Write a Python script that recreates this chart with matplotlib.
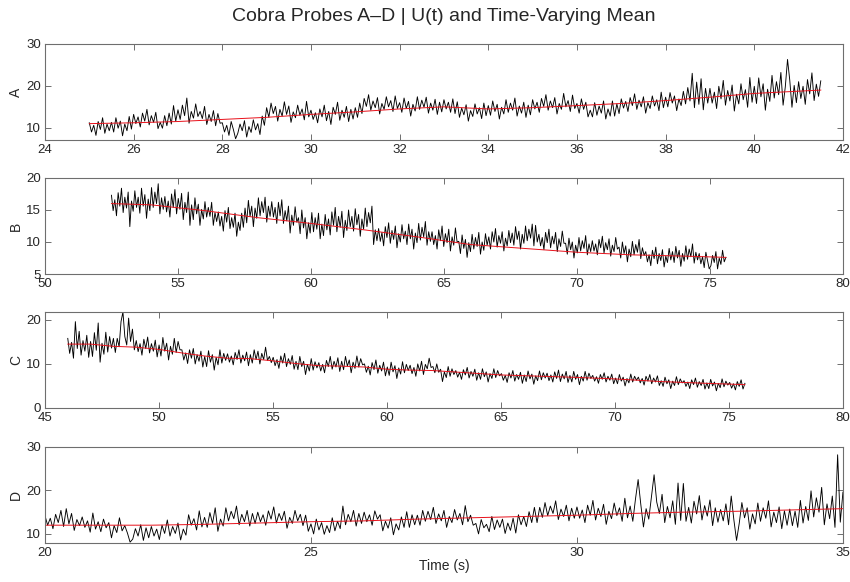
import numpy as np
import matplotlib
matplotlib.use("Agg")
import matplotlib.pyplot as plt

plt.rcParams['font.family'] = ['Liberation Sans', 'DejaVu Sans']

# ---- probe A, 25.0 .. 41.5 s, 20 samples per second
a_start, a_end = 25.0, 41.5
a_u = [
    11.2, 9.0, 10.6, 8.2, 11.5, 9.6, 12.4, 8.7, 10.9, 9.3, 11.3, 9.0, 12.4, 9.9, 11.6, 8.1, 10.9, 9.3, 12.7, 9.7,
    13.2, 11.0, 12.6, 10.2, 13.5, 11.6, 14.4, 10.7, 12.9, 11.3, 13.7, 9.8, 11.3, 9.9, 12.9, 10.5, 13.5, 10.9, 15.3, 11.6,
    14.3, 12.0, 15.4, 12.9, 17.1, 11.1, 13.9, 12.3, 15.7, 12.7, 13.9, 12.2, 15.1, 10.8, 13.2, 11.5, 14.1, 10.5, 13.4, 11.1,
    11.2, 9.0, 10.6, 8.2, 11.5, 9.6, 7.4, 8.7, 10.9, 9.3, 11.7, 7.8, 10.3, 8.9, 11.9, 9.5, 11.0, 8.4, 12.8, 10.6,
    14.8, 12.5, 15.9, 13.4, 15.1, 11.6, 14.4, 12.8, 16.2, 13.2, 15.2, 11.3, 13.8, 12.4, 15.4, 13.0, 14.5, 11.9, 16.3, 12.6,
    14.2, 12.0, 13.6, 11.2, 14.5, 12.6, 15.4, 11.7, 13.9, 10.8, 14.9, 13.2, 16.1, 11.8, 14.2, 12.5, 15.1, 11.5, 14.4, 12.1,
    14.8, 12.5, 15.9, 13.4, 17.0, 15.1, 17.9, 14.2, 16.4, 14.8, 17.2, 13.3, 15.8, 14.4, 17.4, 15.0, 16.5, 13.9, 17.6, 14.6,
    16.0, 13.7, 17.1, 14.6, 16.3, 12.8, 15.6, 14.0, 17.4, 14.4, 16.6, 14.9, 17.3, 13.5, 15.9, 14.2, 16.8, 13.2, 16.1, 13.8,
    16.7, 14.5, 16.1, 13.7, 16.9, 13.4, 16.2, 12.5, 14.7, 13.1, 15.5, 11.6, 14.1, 12.7, 15.7, 13.3, 14.8, 12.2, 15.9, 12.9,
    15.3, 13.0, 16.4, 13.9, 15.6, 12.1, 14.9, 13.3, 16.7, 13.7, 15.9, 14.2, 17.1, 12.8, 15.2, 13.5, 16.1, 12.5, 15.4, 13.1,
    16.7, 14.5, 16.1, 13.7, 17.0, 15.1, 17.9, 14.2, 16.4, 14.8, 17.2, 13.3, 15.8, 14.4, 18.2, 15.0, 16.5, 13.9, 17.8, 14.6,
    15.8, 13.5, 16.9, 14.4, 16.1, 12.6, 14.2, 12.6, 16.0, 13.0, 15.2, 13.5, 16.4, 12.1, 14.5, 12.8, 16.4, 12.8, 15.7, 13.4,
    16.9, 14.7, 16.3, 13.9, 17.2, 15.3, 18.1, 14.4, 16.6, 15.0, 17.4, 13.5, 16.0, 14.6, 17.6, 15.2, 16.7, 14.1, 18.5, 14.8,
    17.3, 15.0, 18.4, 15.9, 17.6, 14.1, 16.9, 15.3, 18.7, 15.7, 19.6, 16.4, 23.0, 14.8, 20.9, 15.6, 21.7, 14.3, 19.4, 15.9,
    19.4, 15.9, 18.5, 14.6, 19.9, 16.9, 21.3, 15.4, 18.9, 16.4, 20.2, 14.0, 18.0, 15.7, 20.5, 16.7, 19.1, 14.9, 22.0, 16.1,
    19.9, 15.8, 21.9, 17.4, 20.5, 14.2, 19.2, 16.3, 22.5, 17.1, 21.0, 17.9, 23.2, 15.4, 19.8, 26.3, 21.4, 14.9, 20.1, 16.0,
    21.0, 17.0, 19.9, 15.6, 21.5, 18.1, 23.1, 16.5, 20.4, 17.5, 21.2,
]
a_mean_t = [25.0, 26, 27, 28, 29, 30, 31, 32, 33, 34, 35, 36, 37, 38, 39, 40, 41.5]
a_mean = [11.0, 11.2, 11.5, 12.0, 12.5, 13.2, 13.8, 14.5, 15.0, 14.5, 14.8, 15.3, 15.8, 16.5, 17.3, 18.2, 19.0]

# ---- probe B, 52.5 .. 75.6 s, 16 samples per second
b_start, b_end = 52.5, 75.6
b_u = [
    17.3, 14.9, 16.6, 14.1, 17.7, 15.6, 18.4, 14.6, 17.0, 15.3, 17.8, 12.4, 16.4, 14.8, 18.0, 15.4,
    17.0, 14.5, 18.4, 15.6, 17.4, 13.7, 16.7, 14.9, 18.5, 15.4, 17.8, 16.0, 19.1, 14.4, 16.9, 15.1,
    17.1, 14.7, 16.4, 13.9, 17.5, 15.4, 18.2, 14.4, 16.8, 15.1, 17.6, 13.5, 16.2, 14.6, 17.8, 12.6,
    15.8, 13.5, 16.9, 14.4, 15.9, 12.6, 15.1, 13.6, 16.3, 13.9, 15.4, 14.0, 16.2, 12.6, 14.6, 13.2,
    14.7, 12.5, 14.0, 11.7, 14.9, 13.1, 15.4, 12.1, 13.8, 12.3, 14.5, 10.9, 13.1, 11.8, 14.5, 12.3,
    15.3, 13.0, 16.5, 14.0, 15.6, 12.4, 15.3, 13.7, 16.9, 14.1, 16.3, 14.6, 17.0, 13.1, 15.6, 14.0,
    16.3, 13.9, 15.4, 12.9, 16.2, 14.1, 16.6, 12.9, 14.9, 13.3, 15.6, 11.4, 14.2, 12.6, 15.5, 13.1,
    13.8, 11.3, 15.0, 12.2, 13.8, 10.5, 13.0, 11.4, 14.6, 11.6, 13.8, 12.0, 14.5, 10.5, 12.8, 11.0,
    14.3, 11.9, 13.6, 11.1, 14.7, 12.6, 15.4, 11.6, 14.0, 12.3, 14.8, 10.7, 13.4, 11.8, 15.0, 12.4,
    14.0, 11.7, 15.2, 12.7, 14.3, 10.9, 13.6, 12.0, 15.3, 12.4, 14.6, 13.0, 15.6, 9.6, 11.9, 10.2,
    12.1, 10.1, 11.5, 9.4, 12.4, 10.7, 13.0, 9.8, 11.8, 10.4, 12.5, 9.1, 11.3, 10.0, 12.7, 10.5,
    11.7, 9.6, 12.8, 10.5, 12.0, 8.9, 11.4, 9.9, 12.9, 10.3, 12.3, 10.8, 13.2, 9.5, 11.6, 10.1,
    11.6, 9.6, 11.0, 8.9, 11.9, 10.2, 12.5, 9.3, 11.3, 9.9, 12.0, 8.6, 10.8, 9.5, 12.2, 10.0,
    10.1, 8.2, 11.1, 9.0, 10.4, 7.6, 9.9, 8.5, 11.2, 8.9, 10.7, 9.3, 11.5, 8.1, 10.0, 8.7,
    11.3, 9.5, 10.8, 8.9, 11.6, 10.0, 12.1, 9.2, 11.0, 9.8, 11.6, 8.6, 10.6, 9.4, 11.8, 9.9,
    11.4, 9.5, 12.4, 10.4, 11.7, 8.9, 11.2, 9.8, 12.5, 10.2, 12.0, 10.6, 12.8, 9.4, 12.6, 10.0,
    11.2, 9.4, 10.7, 8.8, 11.5, 9.9, 12.0, 9.1, 10.9, 9.7, 11.5, 8.5, 10.5, 9.3, 11.7, 9.8,
    9.8, 8.1, 10.6, 8.8, 10.0, 7.5, 9.5, 8.3, 10.7, 8.6, 10.2, 9.0, 11.0, 8.0, 9.7, 8.5,
    10.2, 8.6, 9.7, 8.0, 10.4, 9.1, 10.9, 8.3, 9.9, 8.8, 10.5, 7.8, 9.5, 8.5, 10.7, 8.9,
    9.2, 7.5, 10.0, 8.2, 9.4, 6.9, 8.9, 7.7, 10.1, 8.0, 9.6, 8.4, 10.4, 7.4, 9.1, 7.9,
    8.5, 6.9, 8.0, 6.3, 8.7, 7.4, 9.2, 6.6, 8.2, 7.1, 8.8, 6.1, 7.8, 6.8, 9.0, 7.2,
    8.5, 6.8, 9.3, 7.5, 8.7, 6.2, 8.2, 7.0, 9.4, 7.3, 8.9, 7.7, 9.7, 6.7, 8.4, 7.2,
    8.2, 6.6, 7.7, 6.0, 8.4, 7.1, 5.8, 6.3, 7.9, 6.8, 8.5, 5.8, 7.5, 6.5, 8.7, 6.9,
    7.6,
]
b_mean_t = [52.5, 54, 56, 58, 60, 62, 64, 66, 68, 70, 72, 74, 75.6]
b_mean = [16.0, 15.8, 14.9, 13.8, 12.9, 11.9, 10.8, 9.6, 9.0, 8.4, 8.0, 7.8, 7.6]

# ---- probe C, 46.0 .. 75.7 s, 12 samples per second
c_start, c_end = 46.0, 75.7
c_u = [
    15.8, 12.4, 14.9, 11.3, 19.6, 13.5, 17.4, 12.0, 15.3, 12.9, 16.5, 11.5,
    15.1, 11.7, 17.1, 13.1, 19.3, 10.4, 14.7, 12.2, 17.2, 12.7, 16.2, 13.6,
    15.8, 12.6, 15.8, 13.9, 19.6, 21.8, 16.2, 14.3, 20.4, 15.1, 17.9, 13.2,
    15.3, 12.8, 14.6, 12.0, 15.6, 13.5, 16.1, 12.5, 14.6, 12.9, 15.4, 11.6,
    14.3, 11.8, 16.0, 12.9, 14.7, 10.9, 14.0, 12.2, 15.8, 12.6, 15.1, 13.2,
    13.2, 10.9, 12.5, 10.1, 13.2, 11.3, 13.5, 10.0, 12.1, 10.6, 12.9, 9.3,
    11.7, 9.4, 13.0, 10.4, 12.1, 8.6, 11.5, 9.8, 13.2, 10.2, 12.4, 10.8,
    12.3, 10.4, 11.8, 9.8, 12.6, 11.0, 13.2, 10.2, 12.0, 10.7, 12.7, 9.6,
    12.1, 10.2, 13.2, 11.0, 12.9, 10.0, 12.4, 11.0, 13.8, 10.8, 11.7, 10.3,
    11.5, 9.6, 11.0, 9.0, 11.8, 10.2, 12.4, 9.4, 11.2, 9.9, 11.9, 8.8,
    10.6, 8.7, 11.7, 9.4, 10.6, 7.6, 9.9, 8.4, 11.2, 8.6, 10.5, 9.1,
    10.3, 8.4, 9.9, 8.0, 10.8, 9.4, 11.7, 8.8, 10.6, 9.3, 11.4, 8.3,
    10.6, 8.7, 11.7, 9.5, 10.9, 8.0, 10.4, 9.0, 11.8, 9.3, 11.2, 9.8,
    10.0, 8.1, 9.5, 7.5, 10.3, 8.7, 10.9, 7.9, 9.7, 8.4, 10.4, 7.3,
    9.3, 7.4, 10.4, 8.2, 9.6, 6.7, 9.1, 7.7, 10.5, 8.0, 9.9, 8.5,
    9.7, 7.8, 9.2, 7.2, 10.0, 8.4, 10.6, 7.6, 9.9, 8.9, 11.3, 9.2,
    9.4, 8.0, 10.0, 8.1, 8.8, 6.0, 8.2, 6.9, 9.4, 7.2, 8.9, 7.6,
    8.5, 7.0, 8.1, 6.5, 8.7, 7.5, 9.2, 6.8, 8.3, 7.2, 8.8, 6.3,
    8.0, 6.5, 8.9, 7.1, 8.2, 5.9, 7.8, 6.7, 8.9, 6.9, 8.5, 7.3,
    7.8, 6.3, 7.4, 5.8, 8.0, 6.8, 8.5, 6.1, 7.6, 6.5, 8.1, 5.6,
    7.5, 6.0, 8.4, 6.6, 7.7, 5.4, 7.3, 6.2, 8.4, 6.4, 8.0, 6.8,
    7.9, 6.2, 7.5, 5.9, 8.2, 6.7, 8.6, 6.0, 7.7, 6.6, 8.3, 5.8,
    7.4, 5.9, 8.3, 6.5, 7.6, 5.3, 7.2, 6.1, 8.3, 6.3, 7.9, 6.7,
    7.4, 6.1, 7.1, 5.6, 7.6, 6.5, 8.0, 5.9, 7.2, 6.3, 7.7, 5.5,
    6.8, 5.5, 7.6, 6.1, 7.0, 5.0, 6.7, 5.7, 7.7, 5.9, 7.2, 6.3,
    7.0, 5.7, 6.7, 5.2, 7.2, 6.1, 7.6, 5.5, 6.8, 5.9, 7.3, 5.1,
    6.2, 4.9, 7.0, 5.5, 6.4, 4.4, 6.1, 5.1, 7.1, 5.3, 6.6, 5.7,
    6.2, 4.9, 5.9, 4.4, 6.4, 5.3, 6.8, 4.7, 6.0, 5.1, 6.5, 4.3,
    5.7, 4.4, 6.5, 5.0, 5.9, 3.9, 5.6, 4.6, 6.6, 4.8, 6.1, 5.2,
    5.8, 4.5, 5.5, 4.1, 6.0, 4.9, 6.4, 4.3, 5.6,
]
c_mean_t = [46.0, 47, 48, 49, 50, 51, 52, 53, 54, 55, 56, 57, 58, 59, 60, 61, 62, 65, 68, 70, 72, 74, 75.7]
c_mean = [14.5, 14.5, 14.0, 13.8, 13.3, 12.5, 11.8, 11.3, 11.2, 10.7, 10.1, 9.6, 9.5, 9.3, 8.8, 8.6, 8.5,
          7.5, 7.0, 6.6, 6.0, 5.6, 5.3]

# ---- probe D, 20.0 .. 35.0 s, 20 samples per second
d_start, d_end = 20.0, 35.0
d_u = [
    14.2, 12.0, 13.6, 11.2, 14.5, 12.6, 15.4, 11.7, 15.8, 12.3, 14.7, 10.8, 13.3, 11.9, 13.9, 11.5, 13.0, 10.4, 14.8, 11.1,
    12.8, 10.5, 13.4, 11.4, 12.6, 9.1, 11.9, 10.3, 13.7, 10.7, 11.9, 10.2, 8.1, 8.8, 11.2, 9.5, 12.1, 8.5, 11.4, 9.1,
    11.7, 9.5, 11.1, 8.7, 12.0, 10.1, 13.2, 9.5, 11.7, 10.1, 12.5, 8.6, 11.1, 9.7, 14.4, 12.0, 13.5, 10.9, 15.3, 11.6,
    13.8, 11.5, 14.9, 12.4, 16.0, 10.6, 13.4, 11.8, 16.0, 13.0, 15.2, 13.5, 16.4, 12.1, 14.5, 12.8, 15.4, 11.8, 14.7, 12.4,
    15.0, 12.8, 14.4, 12.0, 15.3, 13.4, 16.2, 12.5, 14.7, 13.1, 15.2, 11.3, 13.8, 12.4, 15.4, 13.0, 14.5, 11.9, 14.3, 10.6,
    12.3, 10.0, 13.4, 10.9, 12.6, 9.9, 11.9, 10.3, 13.7, 10.7, 12.9, 11.2, 16.4, 12.1, 14.5, 12.8, 15.4, 11.8, 14.7, 12.4,
    15.0, 12.8, 14.4, 12.0, 15.3, 13.4, 14.4, 10.7, 12.9, 11.3, 13.7, 9.8, 12.3, 10.9, 13.9, 11.5, 15.1, 11.5, 14.4, 12.1,
    14.3, 12.0, 15.4, 12.9, 15.2, 13.3, 16.1, 12.4, 14.6, 13.0, 15.4, 11.5, 14.0, 12.6, 15.6, 13.2, 14.7, 12.1, 16.5, 12.8,
    14.3, 12.0, 12.4, 10.0, 13.3, 11.4, 12.2, 10.5, 14.0, 11.0, 13.2, 11.5, 13.4, 10.1, 12.5, 10.8, 13.6, 10.2, 14.4, 12.1,
    14.0, 11.7, 15.1, 12.6, 16.1, 12.6, 16.1, 13.8, 17.2, 14.2, 16.4, 14.7, 17.6, 13.3, 15.7, 14.0, 16.6, 13.0, 15.9, 13.6,
    16.2, 13.6, 15.5, 12.6, 16.6, 14.3, 17.7, 13.2, 15.9, 14.0, 16.8, 12.2, 15.2, 13.5, 17.1, 14.2, 16.0, 12.9, 18.2, 13.7,
    16.4, 12.9, 18.0, 22.5, 16.8, 11.6, 15.8, 13.4, 18.5, 23.6, 17.3, 14.7, 19.1, 12.6, 16.3, 13.7, 17.6, 12.2, 21.7, 13.1,
    21.6, 12.9, 16.1, 12.5, 17.5, 14.6, 18.8, 13.2, 16.5, 14.1, 17.8, 11.9, 16.0, 12.7, 15.6, 13.0, 16.9, 12.1, 18.7, 13.2,
    8.5, 12.4, 17.2, 13.7, 16.0, 11.1, 14.6, 12.3, 17.1, 12.9, 16.0, 13.6, 17.6, 11.6, 15.0, 12.6, 16.2, 11.2, 15.3, 12.0,
    15.7, 11.9, 15.2, 11.5, 17.7, 12.5, 16.3, 13.1, 19.9, 13.9, 18.3, 15.0, 20.7, 12.1, 16.9, 13.5, 18.7, 11.5, 28.2, 12.7,
    19.6,
]
d_mean_t = [20.0, 21, 22, 23, 24, 25, 26, 27, 28, 29, 30, 31, 32, 33, 34, 35]
d_mean = [12.0, 12.0, 12.0, 12.2, 12.5, 12.8, 13.0, 13.4, 13.7, 14.0, 14.3, 14.7, 15.0, 15.2, 15.5, 15.8]

probes = [
    ("A", a_start, a_end, a_u, a_mean_t, a_mean, (24, 42), (7.1, 30), np.arange(24, 43, 2), [10, 20, 30]),
    ("B", b_start, b_end, b_u, b_mean_t, b_mean, (50, 80), (5, 20), np.arange(50, 81, 5), [5, 10, 15, 20]),
    ("C", c_start, c_end, c_u, c_mean_t, c_mean, (45, 80), (0, 21.8), np.arange(45, 81, 5), [0, 10, 20]),
    ("D", d_start, d_end, d_u, d_mean_t, d_mean, (20, 35), (7.9, 30), [20, 25, 30, 35], [10, 20, 30]),
]

fig = plt.figure(figsize=(8.5, 5.82), dpi=100)
bottoms = [0.7595, 0.5292, 0.2990, 0.0670]
frame = '#6e6e6e'

for (name, t0, t1, u, mt, mu, xl, yl, xt, yt), b in zip(probes, bottoms):
    ax = fig.add_axes([0.0529, b, 0.9388, 0.165])
    t = np.linspace(t0, t1, len(u))
    ax.plot(t, u, color='black', lw=0.65)
    ax.plot(mt, mu, color='#e8101a', lw=0.7)
    ax.set_xlim(*xl)
    ax.set_ylim(*yl)
    ax.set_xticks(xt)
    ax.set_yticks(yt)
    ax.tick_params(direction='in', top=True, right=True, length=4, width=0.7,
                   color=frame, labelsize=9.5, labelcolor='#262626', pad=3)
    for s in ax.spines.values():
        s.set_color(frame)
        s.set_linewidth(0.8)
    ax.set_ylabel(name, fontsize=10, color='#262626', labelpad=2)

fig.text(0.5225, 0.016, 'Time (s)', ha='center', va='bottom', fontsize=10, color='#262626')
fig.text(0.5225, 0.972, 'Cobra Probes A\u2013D | U(t) and Time-Varying Mean', ha='center', va='center',
         fontsize=14, color='#262626')

fig.savefig('out.png', dpi=100)
